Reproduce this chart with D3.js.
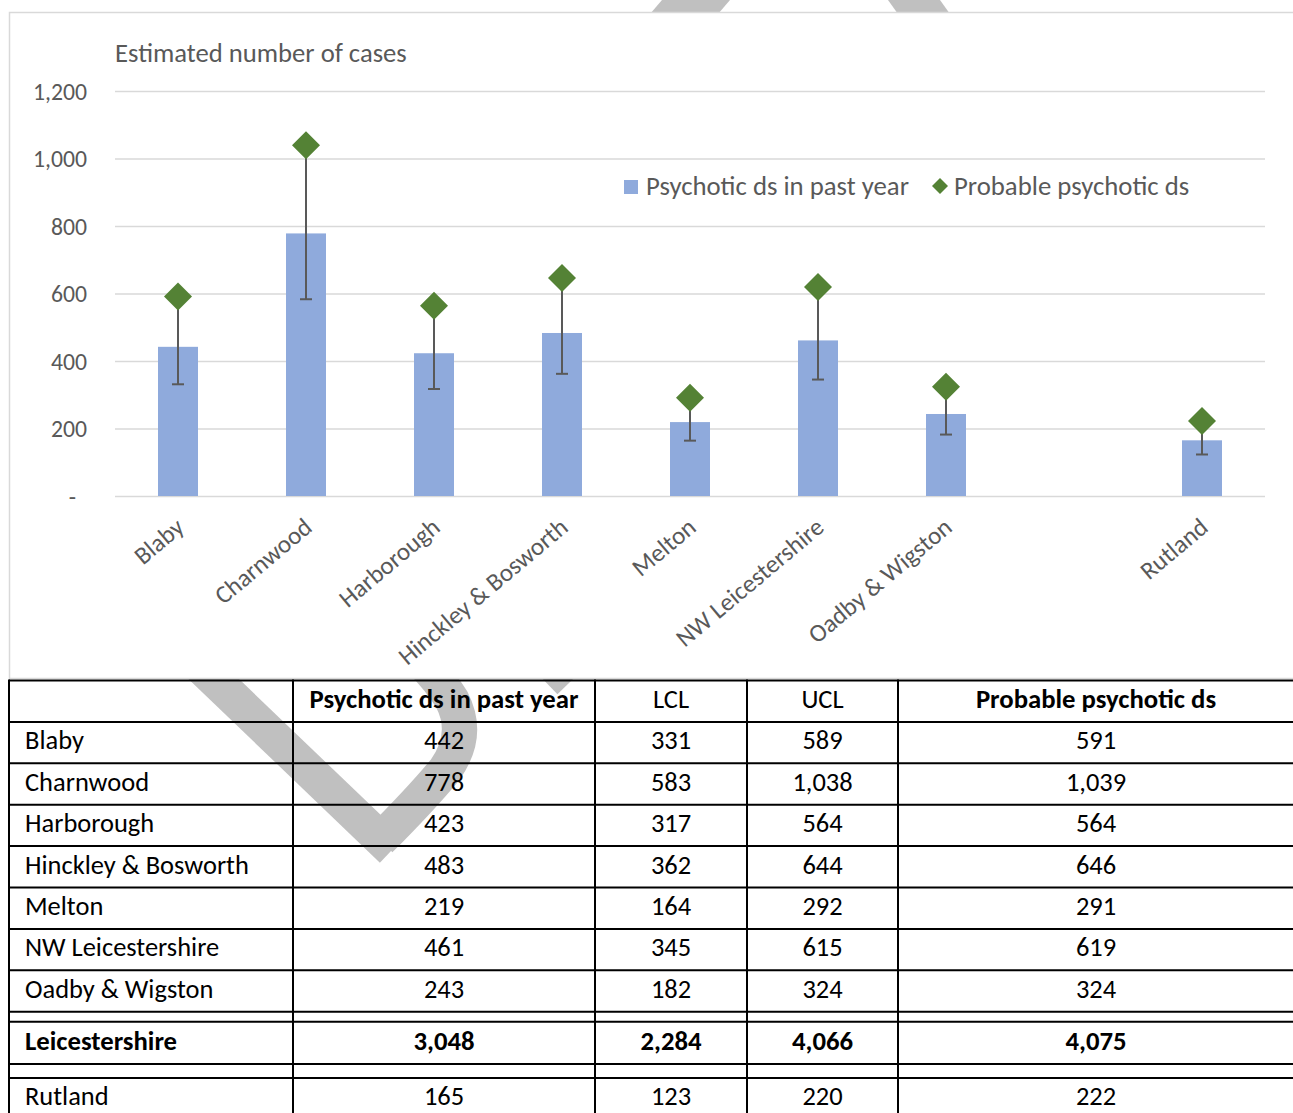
<!DOCTYPE html>
<html>
<head>
<meta charset="utf-8">
<script src="https://cdn.jsdelivr.net/npm/d3@7"></script>
<style>
  html, body { margin: 0; padding: 0; background: #fff; }
  svg { display: block; }
</style>
</head>
<body>
<svg id="chart" width="1293" height="1113"></svg>
<script>
// ---------------- DATA ----------------
const categories = ["Blaby", "Charnwood", "Harborough", "Hinckley & Bosworth", "Melton",
                    "NW Leicestershire", "Oadby & Wigston", "", "Rutland"];
const pastYear  = [442, 778, 423, 483, 219, 461, 243, null, 165];
const lclValues = [331, 583, 317, 362, 164, 345, 182, null, 123];
const uclValues = [589, 1038, 564, 644, 292, 615, 324, null, 220];
const probable  = [591, 1039, 564, 646, 291, 619, 324, null, 222];
const yTicks = [0, 200, 400, 600, 800, 1000, 1200];

const seriesNames = ["Psychotic ds in past year", "Probable psychotic ds"];
const tableHeaders = ["", "Psychotic ds in past year", "LCL", "UCL", "Probable psychotic ds"];
const tableNames = ["Blaby", "Charnwood", "Harborough", "Hinckley & Bosworth", "Melton",
                    "NW Leicestershire", "Oadby & Wigston", "Leicestershire", "Rutland"];
const tablePast  = ["442", "778", "423", "483", "219", "461", "243", "3,048", "165"];
const tableLCL   = ["331", "583", "317", "362", "164", "345", "182", "2,284", "123"];
const tableUCL   = ["589", "1,038", "564", "644", "292", "615", "324", "4,066", "220"];
const tableProb  = ["591", "1,039", "564", "646", "291", "619", "324", "4,075", "222"];
const tableBold  = [false, false, false, false, false, false, false, true, false];

// ---------------- SETUP ----------------
const svg = d3.select("#chart");
const FONT = "Carlito, Calibri, Lato, 'Open Sans', sans-serif";
const GREY_TXT = "#595959";
const BAR = "#8FAADC";
const GREEN = "#548235";

// measure helper to fit font size to a target width
const meas = svg.append("text").attr("font-family", FONT).attr("x", -1000).attr("y", -1000);
function fit(text, target, bold) {
  meas.attr("font-size", 100).attr("font-weight", bold ? "bold" : "normal").text(text);
  const w = meas.node().getComputedTextLength();
  return 100 * target / w;
}
const fsTable = fit("Hinckley & Bosworth", 224, false);
const fsHead = fit("Psychotic ds in past year", 269, true);
const fsTitle = fit("Estimated number of cases", 292, false);
const fsLegend = fit("Psychotic ds in past year", 263, false);
const fsTick = fit("1,200", 54, false);
const fsX = fit("Hinckley & Bosworth", 212, false);
meas.remove();

// ---------------- WATERMARK (behind everything) ----------------
const wm = svg.append("g").attr("fill", "none").attr("stroke", "#C0C0C0").attr("stroke-width", 35);
wm.append("path").attr("d", "M100,570 L392,850").attr("stroke-linecap", "butt");
wm.append("path").attr("d", "M380,840 Q420,800 445,770 Q470,735 452,700 Q440,680 420,660")
  .attr("stroke-linejoin", "round");
wm.append("path").attr("d", "M510,620 L570,682").attr("stroke-linecap", "butt");
svg.append("polygon").attr("points", "662,0 730,0 718,14 650,14").attr("fill", "#C0C0C0");
svg.append("polygon").attr("points", "888,0 940,0 950,14 898,14").attr("fill", "#C0C0C0");

// ---------------- CHART FRAME ----------------
svg.append("rect").attr("x", 9.5).attr("y", 12.5).attr("width", 1320).attr("height", 666)
  .attr("fill", "#fff").attr("stroke", "#D9D9D9").attr("stroke-width", 1.5);

const x = d3.scaleBand().domain(categories).range([114, 1266])
  .paddingInner(0.6875).paddingOuter(0.34375);
const y = d3.scaleLinear().domain([0, 1200]).range([496, 91]);

// gridlines
const gridAxis = d3.axisLeft(y).tickValues(yTicks).tickSize(-1150).tickFormat("");
const gg = svg.append("g").attr("transform", "translate(115,0)").call(gridAxis);
gg.select(".domain").remove();
gg.selectAll(".tick line").attr("stroke", "#D9D9D9").attr("stroke-width", 1.5);

// y tick labels
const yAxis = d3.axisLeft(y).tickValues(yTicks).tickSize(0).tickPadding(0)
  .tickFormat(d => d === 0 ? "-" : d3.format(",")(d));
const ya = svg.append("g").attr("transform", "translate(87,0)").call(yAxis);
ya.select(".domain").remove();
ya.selectAll("text").attr("font-family", FONT).attr("font-size", fsTick).attr("fill", GREY_TXT)
  .attr("dy", "0.35em").attr("dx", d => d === 0 ? -11 : 0);

// title
svg.append("text").attr("x", 115).attr("y", 62).attr("font-family", FONT)
  .attr("font-size", fsTitle).attr("fill", GREY_TXT).text("Estimated number of cases");

// bars
const idx = d3.range(categories.length);
svg.append("g").selectAll("rect").data(idx.filter(i => pastYear[i] != null)).join("rect")
  .attr("x", i => x(categories[i])).attr("width", x.bandwidth())
  .attr("y", i => y(pastYear[i])).attr("height", i => y(0) - y(pastYear[i]))
  .attr("fill", BAR);

// error bars
const eb = svg.append("g").attr("stroke", "#595959").attr("stroke-width", 2);
idx.filter(i => lclValues[i] != null).forEach(i => {
  const cx = x(categories[i]) + x.bandwidth() / 2;
  eb.append("line").attr("x1", cx).attr("x2", cx).attr("y1", y(uclValues[i])).attr("y2", y(lclValues[i]));
  eb.append("line").attr("x1", cx - 6).attr("x2", cx + 6).attr("y1", y(lclValues[i])).attr("y2", y(lclValues[i]));
  eb.append("line").attr("x1", cx - 6).attr("x2", cx + 6).attr("y1", y(uclValues[i])).attr("y2", y(uclValues[i]));
});

// diamonds
const diamond = d3.symbol().type(d3.symbolSquare).size(392);
svg.append("g").selectAll("path").data(idx.filter(i => probable[i] != null)).join("path")
  .attr("d", diamond)
  .attr("transform", i => `translate(${x(categories[i]) + x.bandwidth() / 2},${y(probable[i])}) rotate(45)`)
  .attr("fill", GREEN);

// x labels
svg.append("g").selectAll("text").data(idx).join("text")
  .attr("transform", i => `translate(${x(categories[i]) + x.bandwidth() / 2 - 4},${516}) rotate(-40)`)
  .attr("text-anchor", "end").attr("dy", "0.72em")
  .attr("font-family", FONT).attr("font-size", fsX).attr("fill", GREY_TXT)
  .text(i => categories[i]);

// legend
svg.append("rect").attr("x", 624).attr("y", 180).attr("width", 14).attr("height", 14).attr("fill", BAR);
svg.append("text").attr("x", 646).attr("y", 186).attr("dy", "0.35em").attr("font-family", FONT)
  .attr("font-size", fsLegend).attr("fill", GREY_TXT).text(seriesNames[0]);
svg.append("path").attr("d", d3.symbol().type(d3.symbolSquare).size(128))
  .attr("transform", "translate(940,186) rotate(45)").attr("fill", GREEN);
svg.append("text").attr("x", 954).attr("y", 186).attr("dy", "0.35em").attr("font-family", FONT)
  .attr("font-size", fsLegend).attr("fill", GREY_TXT).text(seriesNames[1]);

// ---------------- TABLE ----------------
const colX = [9, 293, 595, 747, 898, 1294];
const rowH = 41.4;
const rows = [];
let t = 680.5;
rows.push({ top: t, bottom: t + rowH, header: true }); t += rowH;
for (let i = 0; i < 7; i++) { rows.push({ top: t, bottom: t + rowH, k: i }); t += rowH; }
t += 10;
rows.push({ top: t, bottom: t + 42.3, k: 7 }); t += 42.3;
t += 14;
rows.push({ top: t, bottom: t + rowH, k: 8 });

const tg = svg.append("g");
const hLines = [];
rows.forEach(r => { hLines.push(r.top); hLines.push(r.bottom); });
Array.from(new Set(hLines.map(v => Math.round(v * 10) / 10))).forEach(v => {
  tg.append("line").attr("x1", colX[0]).attr("x2", colX[5]).attr("y1", v).attr("y2", v)
    .attr("stroke", "#000").attr("stroke-width", 2);
});
colX.forEach(cx => {
  tg.append("line").attr("x1", cx).attr("x2", cx).attr("y1", 679.5).attr("y2", 1120)
    .attr("stroke", "#000").attr("stroke-width", 2);
});

const colCenters = d3.range(1, 5).map(c => (colX[c] + colX[c + 1]) / 2);
const TXT_SHIFT = -2.5;
rows.forEach(r => {
  const cy = (r.top + r.bottom) / 2 + TXT_SHIFT;
  if (r.header) {
    tableHeaders.forEach((h, c) => {
      if (!h) return;
      const bold = (c === 1 || c === 4);
      tg.append("text").attr("x", colCenters[c - 1]).attr("y", cy).attr("dy", "0.35em")
        .attr("text-anchor", "middle").attr("font-family", FONT)
        .attr("font-size", bold ? fsHead : fsTable).attr("font-weight", bold ? "bold" : "normal")
        .attr("fill", "#000").text(h);
    });
  } else {
    const k = r.k;
    const bold = tableBold[k];
    const fs = bold ? fsHead : fsTable;
    const cyy = k === 8 ? 1096 : cy;
    tg.append("text").attr("x", 25).attr("y", cyy).attr("dy", "0.35em")
      .attr("font-family", FONT).attr("font-size", fs).attr("font-weight", bold ? "bold" : "normal")
      .attr("fill", "#000").text(tableNames[k]);
    [tablePast[k], tableLCL[k], tableUCL[k], tableProb[k]].forEach((v, c) => {
      tg.append("text").attr("x", colCenters[c]).attr("y", cyy).attr("dy", "0.35em")
        .attr("text-anchor", "middle").attr("font-family", FONT).attr("font-size", fs)
        .attr("font-weight", bold ? "bold" : "normal").attr("fill", "#000").text(v);
    });
  }
});
</script>
</body>
</html>
